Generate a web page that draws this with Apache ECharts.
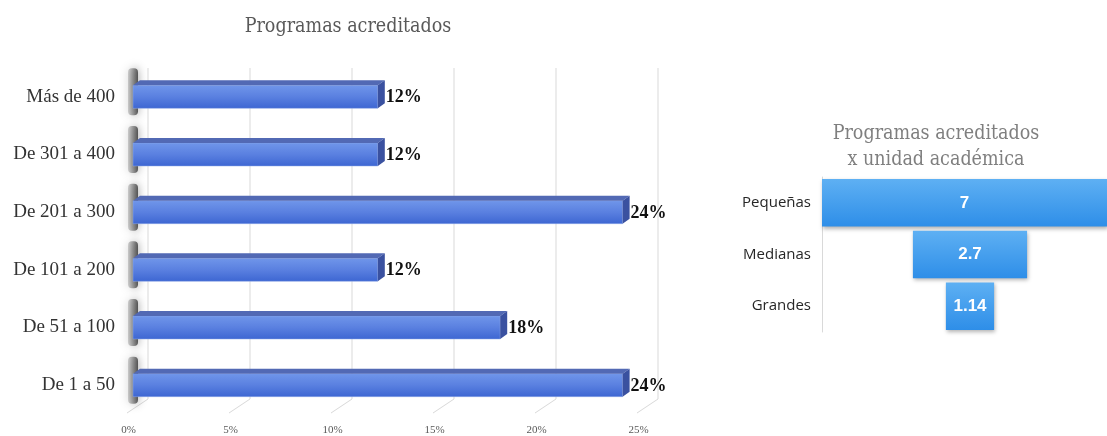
<!DOCTYPE html>
<html>
<head>
<meta charset="utf-8">
<script src="https://cdn.jsdelivr.net/npm/echarts@6/dist/echarts.min.js"></script>
<style>
html,body{margin:0;padding:0;background:#fff;}
#chart{width:1107px;height:436px;}
</style>
</head>
<body>
<div id="chart"></div>
<script>
// ---- data ----
const mainTitle = 'Programas acreditados';
const rangeCategories = ['Más de 400', 'De 301 a 400', 'De 201 a 300', 'De 101 a 200', 'De 51 a 100', 'De 1 a 50'];
const rangeValues = [12, 12, 24, 12, 18, 24];
const xTicks = [0, 5, 10, 15, 20, 25];

const funnelTitle = 'Programas acreditados\nx unidad académica';
const unitCategories = ['Pequeñas', 'Medianas', 'Grandes'];
const unitValues = [7, 2.7, 1.14];

// ---- chart ----
const chart = echarts.init(document.getElementById('chart'), null, {renderer: 'canvas'});
const funnelMax = Math.max.apply(null, unitValues);
const funnelOffsets = unitValues.map(v => (funnelMax - v) / 2);
// visible part of the funnel axis (the widest bar runs past the right edge of the picture)
const funnelVisibleMax = 6.74;

const serif = '"Liberation Serif", "Times New Roman", serif';
const titleSerif = '"DejaVu Serif Condensed", "DejaVu Serif", serif';

const option = {
  backgroundColor: '#ffffff',
  animation: false,
  title: [
    {text: mainTitle, left: 343, top: 12, textAlign: 'center',
     textStyle: {fontFamily: titleSerif, fontSize: 19.5, fontWeight: 'normal', color: '#595959'}},
    {text: funnelTitle, left: 931, top: 116, textAlign: 'center',
     textStyle: {fontFamily: titleSerif, fontSize: 19.5, fontWeight: 'normal', color: '#7f7f7f', lineHeight: 26}}
  ],
  grid: [
    {left: 133, top: 68, width: 510, height: 346},
    {left: 822, top: 177, right: 0, height: 155}
  ],
  xAxis: [
    {gridIndex: 0, type: 'value', min: 0, max: 25, interval: 5,
     axisLine: {show: false}, axisTick: {show: false}, splitLine: {show: false},
     axisLabel: {formatter: '{value}%', fontFamily: serif, fontSize: 11, color: '#595959', margin: 11, padding: [0, 9, 0, 0]}},
    {gridIndex: 1, type: 'value', min: 0, max: funnelVisibleMax, show: false, splitLine: {show: false}}
  ],
  yAxis: [
    {gridIndex: 0, type: 'category', data: rangeCategories, inverse: true,
     axisLine: {show: false}, axisTick: {show: false},
     axisLabel: {fontFamily: serif, fontSize: 19, color: '#333333', margin: 18}},
    {gridIndex: 1, type: 'category', data: unitCategories, inverse: true,
     axisLine: {show: true, lineStyle: {color: '#d9d9d9', width: 1}}, axisTick: {show: false},
     axisLabel: {fontFamily: '"Open Sans", "Noto Sans", sans-serif', fontSize: 15, color: '#262626', margin: 11}}
  ],
  series: [
    {
      type: 'custom', xAxisIndex: 0, yAxisIndex: 0, z: 1, silent: true,
      data: xTicks.map(t => [t, 0]),
      encode: {x: 0, y: 1},
      renderItem: function (params, api) {
        const cs = params.coordSys;
        const x = api.coord([api.value(0), 0])[0];
        const top = cs.y, bot = cs.y + cs.height;
        return {
          type: 'polyline',
          shape: {points: [[x + 15, top], [x + 15, bot - 15], [x - 6, bot - 1]]},
          style: {stroke: '#d9d9d9', lineWidth: 1, fill: null}
        };
      }
    },
    {
      type: 'custom', xAxisIndex: 0, yAxisIndex: 0, z: 2, silent: true,
      data: rangeValues.map((v, i) => [v, i]),
      encode: {x: 0, y: 1},
      renderItem: function (params, api) {
        const v = api.value(0), c = api.value(1);
        const s = api.coord([0, c]), e = api.coord([v, c]);
        const h = 23, dx = 7, dy = 5;
        const cy = s[1];
        const top = cy - h / 2, bot = cy + h / 2;
        const x0 = s[0], x1 = e[0];
        return {
          type: 'group',
          children: [
            {type: 'rect', shape: {x: x0 - 5, y: top - dy - 12, width: 10, height: h + dy + 19, r: 4},
             style: {fill: new echarts.graphic.LinearGradient(1, 0, 0, 0, [
               {offset: 0, color: 'rgba(40,40,40,0.75)'}, {offset: 1, color: 'rgba(120,120,120,0.3)'}]),
               shadowBlur: 10, shadowColor: 'rgba(0,0,0,0.5)'}},
            {type: 'rect', shape: {x: x0, y: top, width: x1 - x0, height: h},
             style: {fill: new echarts.graphic.LinearGradient(0, 0, 0, 1, [
               {offset: 0, color: '#7096ea'}, {offset: 0.5, color: '#5a80e0'}, {offset: 1, color: '#3d66d2'}]),
               stroke: '#8fa8e6', lineWidth: 0.5}},
            {type: 'polygon', shape: {points: [[x0, top], [x0 + dx, top - dy], [x1 + dx, top - dy], [x1, top]]},
             style: {fill: '#5269b4'}},
            {type: 'polygon', shape: {points: [[x1, top], [x1 + dx, top - dy], [x1 + dx, bot - dy], [x1, bot]]},
             style: {fill: '#3a51a0'}},
            {type: 'text', x: x1 + dx + 1, y: cy + 1,
             style: {text: v + '%', fontFamily: serif, fontSize: 18, fontWeight: 'bold', fill: '#111111',
                     align: 'left', verticalAlign: 'middle'}}
          ]
        };
      }
    },
    {
      type: 'bar', xAxisIndex: 1, yAxisIndex: 1, stack: 'funnel', silent: true,
      data: funnelOffsets, barCategoryGap: '8%',
      itemStyle: {color: 'rgba(0,0,0,0)'}, emphasis: {disabled: true}
    },
    {
      type: 'bar', xAxisIndex: 1, yAxisIndex: 1, stack: 'funnel',
      data: unitValues, barCategoryGap: '8%',
      itemStyle: {
        color: new echarts.graphic.LinearGradient(0, 0, 0, 1, [
          {offset: 0, color: '#5eb0f3'}, {offset: 1, color: '#2e8ee8'}]),
        shadowBlur: 4, shadowOffsetX: 1, shadowOffsetY: 2, shadowColor: 'rgba(0,0,0,0.3)'
      },
      label: {show: true, position: 'inside', color: '#ffffff', fontWeight: 'bold',
              fontFamily: '"Liberation Sans", Arial, sans-serif', fontSize: 17,
              formatter: p => String(p.value)}
    }
  ]
};
chart.setOption(option);
</script>
</body>
</html>
